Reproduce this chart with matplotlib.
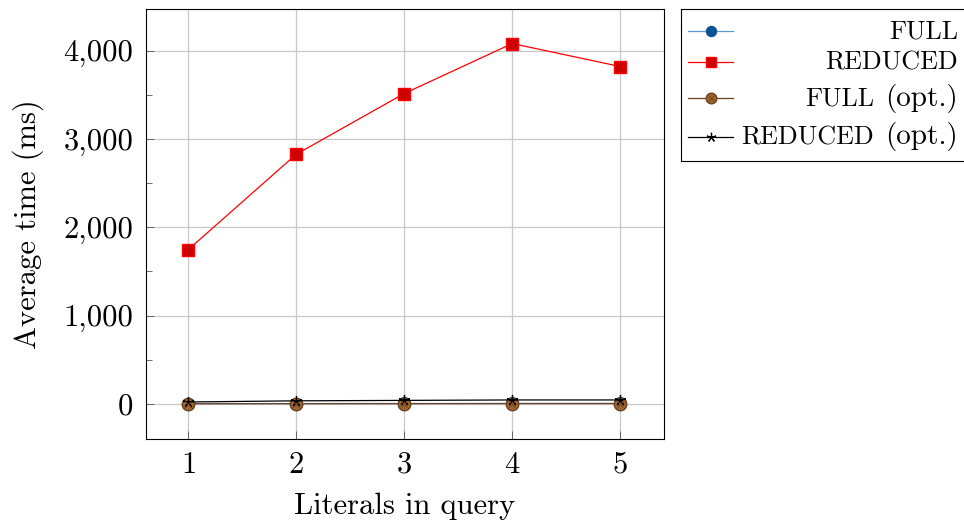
import numpy as np
import matplotlib
matplotlib.use("Agg")
from matplotlib import pyplot as plt
from matplotlib.ticker import FuncFormatter, MultipleLocator

plt.rcParams['font.family'] = ['cmr10', 'DejaVu Serif']
plt.rcParams['mathtext.fontset'] = 'cm'
plt.rcParams['axes.formatter.use_mathtext'] = True

literals = [1, 2, 3, 4, 5]
full = [3, 4, 5, 5, 6]
reduced = [1745, 2825, 3513, 4079, 3819]
full_opt = [2, 3, 3, 4, 4]
reduced_opt = [22, 35, 40, 45, 45]

# small caps name + plain suffix
names = ["FULL", "REDUCED", "FULL", "REDUCED"]
suffixes = ["", "", "(opt.)", "(opt.)"]

W, H = 964, 522
fig = plt.figure(figsize=(W / 100, H / 100), dpi=100)
ax = fig.add_axes([146 / W, 1 - 439 / H, (664 - 146) / W, (439 - 9) / H])

styles = [
    dict(color='#5b9bd5', marker='o', markersize=8.5, markerfacecolor='#0b5394',
         markeredgecolor='#0b5394', lw=0.9),
    dict(color='red', marker='s', markersize=8.5, markerfacecolor='#cc0000',
         markeredgecolor='red', lw=0.9),
    dict(color='#6b4423', marker='o', markersize=9, markerfacecolor='#a0642d',
         markeredgecolor='#6b4423', lw=0.9),
    dict(color='black', marker=(5, 2, 0), markersize=8, markeredgewidth=0.9, lw=0.9),
]

series = [full, reduced, full_opt, reduced_opt]
for vals, st in zip(series, styles):
    ax.plot(literals, vals, zorder=3, **st)
# cross inside the brown circles
ax.plot(literals, full_opt, ls='none', marker='x', markersize=5, color='#6b4423',
        markeredgewidth=0.6, zorder=3)

ax.set_xlim(0.61, 5.405)
ax.set_ylim(-397, 4470)
ax.set_xticks(literals)
ax.yaxis.set_major_locator(MultipleLocator(1000))
ax.yaxis.set_minor_locator(MultipleLocator(500))
ax.yaxis.set_major_formatter(FuncFormatter(lambda v, p: '{:,.0f}'.format(v)))
ax.grid(True, which='major', color='#c8c8c8', lw=0.9, zorder=0)
ax.set_axisbelow(True)
ax.tick_params(which='both', direction='in', top=False, right=False, labelsize=22,
               color='#555555', width=0.6)
ax.tick_params(which='major', length=6, pad=9)
ax.tick_params(which='minor', length=4)
for s in ax.spines.values():
    s.set_linewidth(0.8)
ax.set_xlabel("Literals in query", fontsize=22, labelpad=10)
ax.set_ylabel("Average time (ms)", fontsize=22, labelpad=14)

# legend drawn by hand so labels can be right aligned
lx0, ly0, lx1, ly1 = 681, 9, 966, 161
lax = fig.add_axes([lx0 / W, 1 - ly1 / H, (lx1 - lx0) / W, (ly1 - ly0) / H])
lax.set_xlim(lx0, lx1)
lax.set_ylim(ly1, ly0)
lax.set_xticks([])
lax.set_yticks([])
for s in lax.spines.values():
    s.set_linewidth(0.8)
rows = [30.7, 61.7, 98.3, 136.7]
renderer = fig.canvas.get_renderer()
for i, (nm, suf, st, yy) in enumerate(zip(names, suffixes, styles, rows)):
    kw = dict(st)
    kw['markersize'] = kw['markersize'] * 0.85
    lax.plot([688, 711, 733], [yy, yy, yy], markevery=[1], **kw)
    if i == 2:
        lax.plot([711], [yy], ls='none', marker='x', markersize=4.5, color='#6b4423',
                 markeredgewidth=0.6)
    base = yy + 7.5
    right = 958
    if suf:
        t = lax.text(right, base, suf, ha='right', va='baseline', fontsize=21)
        bb = t.get_window_extent(renderer)
        right = lax.transData.inverted().transform((bb.x0, 0))[0] - 11
    lax.text(right, base, nm, ha='right', va='baseline', fontsize=18.8)

fig.savefig("out.png", dpi=100)
